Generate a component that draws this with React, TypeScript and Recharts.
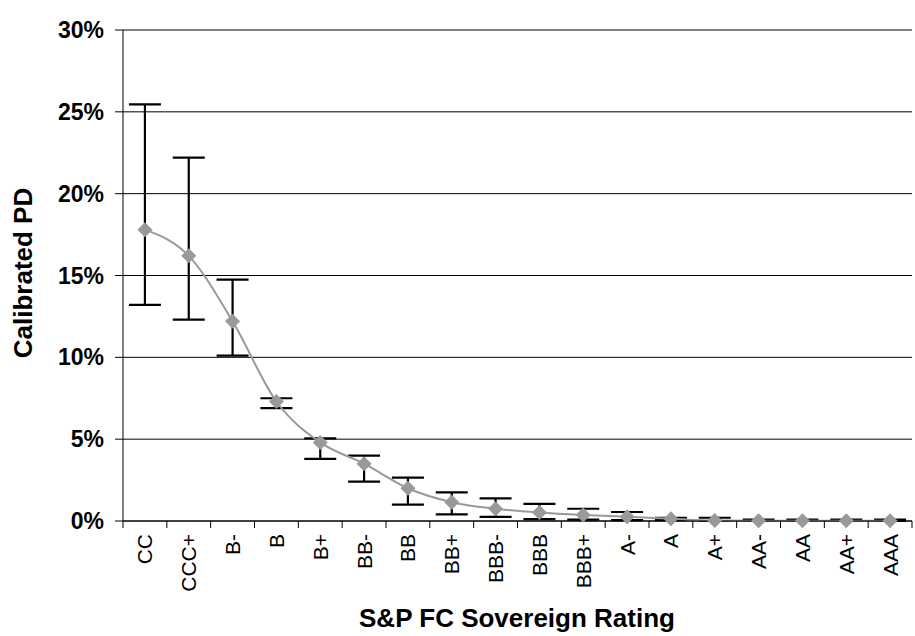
import { LineChart, Line, XAxis, YAxis, CartesianGrid, ErrorBar, ReferenceLine, Label } from 'recharts';

const ratings = ['CC', 'CCC+', 'B-', 'B', 'B+', 'BB-', 'BB', 'BB+', 'BBB-', 'BBB', 'BBB+', 'A-', 'A', 'A+', 'AA-', 'AA', 'AA+', 'AAA'];
const pd = [17.8, 16.2, 12.2, 7.3, 4.8, 3.5, 2.0, 1.15, 0.75, 0.52, 0.37, 0.26, 0.14, 0.03, 0.02, 0.02, 0.02, 0.02];
const pdLow = [13.2, 12.3, 10.1, 6.9, 3.8, 2.4, 1.0, 0.4, 0.25, 0.12, 0.08, 0.05, 0.05, 0.0, 0.0, 0.0, 0.0, 0.0];
const pdHigh = [25.45, 22.2, 14.75, 7.5, 5.05, 4.0, 2.65, 1.75, 1.38, 1.05, 0.75, 0.55, 0.2, 0.2, 0.08, 0.08, 0.08, 0.08];
const yTicks = [0, 5, 10, 15, 20, 25, 30];

const data = ratings.map((r, i) => ({
  rating: r,
  pd: pd[i],
  err: [pd[i] - pdLow[i], pdHigh[i] - pd[i]],
}));

const FONT = '"Liberation Sans", Arial, sans-serif';
const PLOT_W = 789;
const HALF_BAND = PLOT_W / ratings.length / 2;

function Diamond(props: any) {
  const { cx, cy } = props;
  if (cx == null || cy == null) return null;
  const s = 7.5;
  return (
    <path
      d={`M${cx},${cy - s}L${cx + s},${cy}L${cx},${cy + s}L${cx - s},${cy}Z`}
      fill="#999999"
      stroke="none"
    />
  );
}

function RatingTick(props: any) {
  const { x, y, payload, index } = props;
  const off = HALF_BAND;
  const ty = y + 13;
  return (
    <g>
      <line x1={x - off} y1={y} x2={x - off} y2={y + 7} stroke="#000" strokeWidth={1} />
      {index === ratings.length - 1 && (
        <line x1={x + off} y1={y} x2={x + off} y2={y + 7} stroke="#000" strokeWidth={1} />
      )}
      <text
        x={x}
        y={ty}
        transform={`rotate(-90 ${x} ${ty})`}
        textAnchor="end"
        dominantBaseline="central"
        fontSize={21}
        fontFamily={FONT}
        fill="#000"
      >
        {payload.value}
      </text>
    </g>
  );
}

export default function App() {
  return (
    <div style={{ width: 915, height: 636, background: '#fff' }}>
      <style>{'body{margin:0}'}</style>
      <LineChart
        width={915}
        height={636}
        data={data}
        margin={{ top: 30, right: 3, left: 0, bottom: 0 }}
      >
        <CartesianGrid vertical={false} stroke="#000" strokeWidth={1} />
        <XAxis
          dataKey="rating"
          height={115}
          interval={0}
          padding={{ left: HALF_BAND, right: HALF_BAND }}
          tickSize={0}
          tickMargin={0}
          tickLine={false}
          axisLine={{ stroke: '#000', strokeWidth: 1 }}
          tick={<RatingTick />}
        >
          <Label
            content={() => (
              <text
                x={517}
                y={627}
                textAnchor="middle"
                fontSize={26}
                fontWeight="bold"
                fontFamily={FONT}
                fill="#000"
              >
                S&amp;P FC Sovereign Rating
              </text>
            )}
          />
        </XAxis>
        <YAxis
          width={123}
          domain={[0, 30]}
          ticks={yTicks}
          tickFormatter={(v: number) => `${v}%`}
          tickSize={8}
          tickMargin={11}
          tickLine={{ stroke: '#000' }}
          axisLine={{ stroke: '#000', strokeWidth: 1 }}
          tick={{ fill: '#000', fontSize: 23, fontWeight: 'bold', fontFamily: FONT }}
        >
          <Label
            content={() => (
              <text
                x={23}
                y={273}
                transform="rotate(-90 23 273)"
                textAnchor="middle"
                dominantBaseline="central"
                fontSize={26}
                fontWeight="bold"
                fontFamily={FONT}
                fill="#000"
              >
                Calibrated PD
              </text>
            )}
          />
        </YAxis>
        <YAxis
          yAxisId="r"
          orientation="right"
          width={0}
          tick={false}
          tickLine={false}
          axisLine={{ stroke: '#808080', strokeWidth: 1.5 }}
        />
        <ReferenceLine y={30} stroke="#808080" strokeWidth={1.5} />
        <Line
          type="monotone"
          dataKey="pd"
          stroke="#999999"
          strokeWidth={2}
          dot={<Diamond />}
          activeDot={false}
          isAnimationActive={false}
        >
          <ErrorBar dataKey="err" width={16} stroke="#000" strokeWidth={2.2} direction="y" />
        </Line>
      </LineChart>
    </div>
  );
}
